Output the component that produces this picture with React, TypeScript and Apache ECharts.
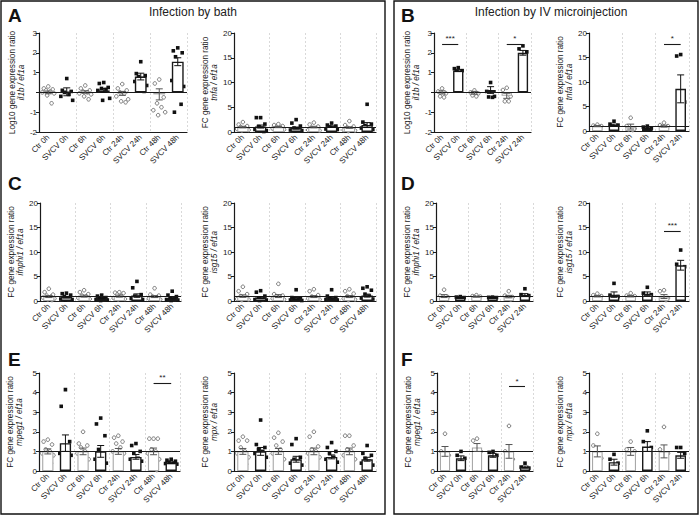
import React, { useEffect, useRef } from 'react';
import * as echarts from 'echarts';

// ---------- categories ----------
const bathGroups = ['Ctr 0h', 'SVCV 0h', 'Ctr 6h', 'SVCV 6h', 'Ctr 24h', 'SVCV 24h', 'Ctr 48h', 'SVCV 48h'];
const ivGroups = ['Ctr 0h', 'SVCV 0h', 'Ctr 6h', 'SVCV 6h', 'Ctr 24h', 'SVCV 24h'];

// ---------- A: il1b (log10), bath ----------
const il1bBathMean = [0.0, 0.03, 0.02, 0.1, -0.05, 0.8, -0.1, 1.55];
const il1bBathSem = [0.07, 0.2, 0.06, 0.1, 0.1, 0.17, 0.28, 0.2];
const il1bBathPts = [
  [0.3, 0.2, 0.15, 0.1, 0.05, 0.0, -0.05, -0.15, -0.55],
  [0.7, 0.1, 0.05, 0.0, -0.1, -0.2, -0.4],
  [0.35, 0.2, 0.1, 0.05, 0.0, -0.05, -0.1, -0.2, -0.35],
  [0.5, 0.45, 0.25, 0.2, 0.15, 0.1, -0.3, -0.4],
  [0.42, 0.2, 0.1, 0.0, -0.05, -0.2, -0.35, -0.45, -0.5],
  [1.55, 0.95, 0.85, 0.8, 0.7, 0.55, 0.35, 0.2, 0.05],
  [0.65, 0.45, -0.25, -0.55, -0.75, -0.9, -1.0, -1.15],
  [2.25, 2.1, 2.0, 1.8, 1.05, 0.6, 0.3, 0.3, -0.6, -1.0],
];

// ---------- A: tnfa, bath ----------
const tnfaBathMean = [1.0, 1.1, 1.0, 0.8, 1.0, 1.1, 0.9, 1.4];
const tnfaBathSem = [0.15, 0.3, 0.1, 0.2, 0.15, 0.15, 0.15, 0.5];
const tnfaBathPts = [
  [2.0, 1.5, 1.2, 1.0, 0.8, 0.6, 0.4, 0.3],
  [2.9, 2.9, 1.6, 1.1, 0.8, 0.5, 0.3, 0.2, 0.1],
  [1.6, 1.4, 1.2, 1.0, 0.9, 0.7, 0.5],
  [2.5, 1.8, 1.2, 0.8, 0.5, 0.4, 0.3, 0.2],
  [1.9, 1.5, 1.1, 0.8, 0.6, 0.4, 0.3],
  [1.8, 1.4, 1.2, 1.0, 0.8, 0.6, 0.5],
  [2.2, 1.4, 1.1, 0.9, 0.6, 0.4, 0.3, 0.2],
  [5.6, 2.0, 1.6, 1.3, 1.0, 0.8, 0.5, 0.3, 0.2],
];

// ---------- B: il1b (log10), IV ----------
const il1bIvMean = [0.0, 1.1, -0.02, 0.12, -0.17, 2.0];
const il1bIvSem = [0.08, 0.05, 0.07, 0.17, 0.13, 0.12];
const il1bIvPts = [
  [0.2, 0.05, -0.05, -0.2, -0.25],
  [1.25, 1.2, 1.1, 1.05, 1.0],
  [0.1, 0.0, -0.05, -0.15, -0.2],
  [0.5, 0.05, -0.2, -0.23, -0.25],
  [0.23, 0.12, -0.2, -0.45, -0.45],
  [2.35, 2.2, 2.05, 1.9, 1.45],
];
const il1bIvSig = [
  { from: 'Ctr 0h', to: 'SVCV 0h', y: 2.45, text: '***' },
  { from: 'Ctr 24h', to: 'SVCV 24h', y: 2.45, text: '*' },
];

// ---------- B: tnfa, IV ----------
const tnfaIvMean = [1.0, 1.2, 0.9, 0.6, 1.0, 8.6];
const tnfaIvSem = [0.1, 0.2, 0.5, 0.2, 0.2, 2.85];
const tnfaIvPts = [
  [1.3, 1.1, 1.0, 0.9, 0.8],
  [2.0, 1.4, 1.2, 1.0, 0.8],
  [2.7, 1.0, 0.5, 0.3, 0.2],
  [1.0, 0.8, 0.6, 0.3, 0.2],
  [1.7, 1.2, 1.0, 0.8, 0.6],
  [15.6, 15.3, 5.9, 4.8, 2.9],
];
const tnfaIvSig = [{ from: 'Ctr 24h', to: 'SVCV 24h', y: 17.8, text: '*' }];

// ---------- C: ifnphi1, bath ----------
const ifnBathMean = [0.9, 0.8, 1.0, 0.6, 1.0, 1.1, 0.9, 0.6];
const ifnBathSem = [0.2, 0.15, 0.2, 0.1, 0.2, 0.35, 0.2, 0.15];
const ifnBathPts = [
  [2.5, 1.8, 1.3, 1.1, 0.9, 0.7, 0.5, 0.3, 0.2],
  [1.6, 1.5, 1.2, 0.9, 0.6, 0.4, 0.3, 0.2],
  [2.2, 1.8, 1.4, 1.1, 0.9, 0.6, 0.4],
  [1.2, 1.0, 0.7, 0.5, 0.4, 0.3, 0.2, 0.1],
  [1.8, 1.7, 1.6, 1.3, 1.0, 0.6, 0.4, 0.3],
  [4.0, 2.7, 1.3, 1.0, 0.8, 0.5, 0.3],
  [2.6, 1.3, 1.1, 0.9, 0.7, 0.5, 0.3],
  [2.0, 1.2, 0.9, 0.6, 0.4, 0.3, 0.2, 0.1],
];

// ---------- C: isg15, bath ----------
const isgBathMean = [1.0, 0.7, 1.0, 0.5, 0.9, 0.6, 0.9, 1.1];
const isgBathSem = [0.25, 0.2, 0.3, 0.2, 0.2, 0.2, 0.2, 0.3];
const isgBathPts = [
  [2.9, 2.0, 1.4, 1.0, 0.6, 0.4, 0.3, 0.2],
  [2.1, 1.8, 1.0, 0.6, 0.4, 0.3, 0.2, 0.1],
  [3.5, 1.4, 1.1, 0.9, 0.7, 0.5, 0.3],
  [2.3, 0.7, 0.5, 0.4, 0.3, 0.2, 0.1],
  [2.4, 2.0, 1.2, 0.9, 0.7, 0.5, 0.3],
  [2.3, 1.0, 0.7, 0.5, 0.4, 0.3, 0.2],
  [2.4, 2.0, 1.5, 1.0, 0.8, 0.5, 0.3, 0.2],
  [2.9, 2.6, 2.2, 1.4, 1.0, 0.6, 0.4, 0.2],
];

// ---------- D: ifnphi1, IV ----------
const ifnIvMean = [1.0, 0.7, 0.9, 0.7, 0.9, 1.2];
const ifnIvSem = [0.3, 0.05, 0.1, 0.05, 0.25, 0.3];
const ifnIvPts = [
  [2.3, 1.1, 0.8, 0.6, 0.4],
  [0.9, 0.8, 0.7, 0.6, 0.5],
  [1.2, 1.0, 0.9, 0.8, 0.6],
  [0.8, 0.75, 0.7, 0.6, 0.5],
  [2.0, 1.1, 0.8, 0.5, 0.3],
  [2.5, 1.3, 1.1, 0.9, 0.6],
];

// ---------- D: isg15, IV ----------
const isgIvMean = [1.0, 1.3, 1.0, 1.5, 0.9, 7.3];
const isgIvSem = [0.15, 0.55, 0.15, 0.35, 0.4, 1.0];
const isgIvPts = [
  [1.5, 1.2, 1.0, 0.7, 0.6],
  [3.6, 1.2, 0.9, 0.6, 0.3],
  [1.6, 1.1, 1.0, 0.8, 0.6],
  [2.8, 1.6, 1.3, 1.0, 0.8],
  [2.2, 2.0, 0.6, 0.4, 0.2],
  [10.4, 7.5, 7.0, 6.6, 4.6],
];
const isgIvSig = [{ from: 'Ctr 24h', to: 'SVCV 24h', y: 14.3, text: '***' }];

// ---------- E: mpeg1, bath ----------
const mpegBathMean = [1.0, 1.42, 1.0, 1.0, 1.0, 0.72, 1.0, 0.42];
const mpegBathSem = [0.13, 0.42, 0.17, 0.3, 0.15, 0.12, 0.17, 0.04];
const mpegBathPts = [
  [1.6, 1.5, 1.35, 1.1, 1.0, 0.9, 0.8, 0.6, 0.4],
  [4.15, 3.3, 1.5, 1.3, 1.1, 0.9, 0.8, 0.6, 0.5, 0.3],
  [2.0, 1.4, 1.3, 1.2, 1.0, 0.9, 0.6, 0.15],
  [2.7, 2.4, 1.8, 1.1, 0.9, 0.6, 0.4, 0.3, 0.1],
  [1.8, 1.7, 1.5, 1.4, 1.2, 1.0, 0.9, 0.7, 0.5],
  [1.4, 1.3, 1.0, 0.9, 0.65, 0.6, 0.5, 0.4, 0.4],
  [1.65, 1.65, 1.65, 1.1, 1.0, 0.9, 0.6, 0.4, 0.05],
  [0.6, 0.55, 0.5, 0.45, 0.4, 0.38, 0.35, 0.3, 0.25],
];
const mpegBathSig = [{ from: 'Ctr 48h', to: 'SVCV 48h', y: 4.5, text: '**' }];

// ---------- E: mpx, bath ----------
const mpxBathMean = [1.0, 1.0, 1.0, 0.6, 1.0, 0.72, 1.0, 0.6];
const mpxBathSem = [0.15, 0.2, 0.15, 0.15, 0.17, 0.1, 0.17, 0.1];
const mpxBathPts = [
  [1.75, 1.55, 1.55, 1.2, 1.0, 0.9, 0.7, 0.5, 0.35],
  [2.6, 1.35, 1.2, 1.1, 1.0, 0.9, 0.7, 0.55, 0.5],
  [1.95, 1.7, 1.5, 1.3, 1.1, 0.9, 0.6, 0.3],
  [1.65, 1.35, 0.7, 0.6, 0.5, 0.4, 0.3, 0.15],
  [2.0, 1.75, 1.25, 1.1, 1.0, 0.9, 0.7, 0.5],
  [1.45, 1.2, 1.0, 0.9, 0.7, 0.6, 0.45, 0.3],
  [1.8, 1.8, 1.3, 1.1, 1.0, 0.8, 0.6, 0.3],
  [1.3, 0.9, 0.8, 0.65, 0.5, 0.4, 0.3, 0.2],
];

// ---------- F: mpeg1, IV ----------
const mpegIvMean = [1.0, 0.65, 1.2, 0.8, 1.0, 0.2];
const mpegIvSem = [0.25, 0.12, 0.2, 0.1, 0.35, 0.05];
const mpegIvPts = [
  [1.9, 1.0, 0.8, 0.6, 0.45],
  [1.0, 0.8, 0.65, 0.5, 0.3],
  [1.65, 1.55, 1.0, 0.6, 0.5],
  [1.0, 0.95, 0.8, 0.7, 0.55],
  [2.3, 1.0, 0.6, 0.55, 0.5],
  [0.4, 0.2, 0.15, 0.1, 0.1],
];
const mpegIvSig = [{ from: 'Ctr 24h', to: 'SVCV 24h', y: 4.3, text: '*' }];

// ---------- F: mpx, IV ----------
const mpxIvMean = [1.0, 0.45, 1.0, 1.25, 1.0, 0.8];
const mpxIvSem = [0.28, 0.15, 0.2, 0.25, 0.33, 0.15];
const mpxIvPts = [
  [1.9, 1.3, 0.65, 0.65, 0.65],
  [0.85, 0.6, 0.4, 0.2, 0.05],
  [1.5, 1.1, 1.0, 0.9, 0.5],
  [2.05, 1.5, 1.2, 0.8, 0.75],
  [2.25, 1.1, 0.9, 0.6, 0.5],
  [1.2, 1.2, 0.9, 0.55, 0.55],
];

// ---------- styling ----------
const FONT = "'Liberation Sans', Arial, sans-serif";
const INK = '#1a1a1a';
const CTR_BORDER = '#a8a8a8';
const CTR_ERR = '#555';
const CTR_PT = '#6a6a6a';
const SVCV_BORDER = '#1a1a1a';
const JITTER = [0, -0.24, 0.24, -0.12, 0.12, -0.32, 0.32, -0.06, 0.18, -0.18, 0.06];

type Sig = { from: string; to: string; y: number; text: string };
type Panel = {
  cats: string[]; mean: number[]; sem: number[]; pts: number[][];
  yMin: number; yMax: number; yInt: number; refY: number;
  name1: string; name2: string; sig?: Sig[]; log?: boolean;
  left: number; top: number; width: number; height: number; nameGap: number;
};

const panels: Panel[] = [
  { cats: bathGroups, mean: il1bBathMean, sem: il1bBathSem, pts: il1bBathPts, yMin: -2, yMax: 3, yInt: 1, refY: 0, log: true,
    name1: 'Log10 gene expression ratio', name2: 'il1b / ef1a', left: 39, top: 33, width: 148, height: 99, nameGap: 10 },
  { cats: bathGroups, mean: tnfaBathMean, sem: tnfaBathSem, pts: tnfaBathPts, yMin: 0, yMax: 20, yInt: 5, refY: 1,
    name1: 'FC gene expression ratio', name2: 'tnfa / ef1a', left: 234, top: 33, width: 142, height: 99, nameGap: 15 },
  { cats: ivGroups, mean: il1bIvMean, sem: il1bIvSem, pts: il1bIvPts, yMin: -2, yMax: 3, yInt: 1, refY: 0, log: true, sig: il1bIvSig,
    name1: 'Log10 gene expression ratio', name2: 'il1b / ef1a', left: 434, top: 33, width: 97, height: 99, nameGap: 13 },
  { cats: ivGroups, mean: tnfaIvMean, sem: tnfaIvSem, pts: tnfaIvPts, yMin: 0, yMax: 20, yInt: 5, refY: 1, sig: tnfaIvSig,
    name1: 'FC gene expression ratio', name2: 'tnfa / ef1a', left: 589, top: 33, width: 100, height: 98, nameGap: 15 },

  { cats: bathGroups, mean: ifnBathMean, sem: ifnBathSem, pts: ifnBathPts, yMin: 0, yMax: 20, yInt: 5, refY: 1,
    name1: 'FC gene expression ratio', name2: 'ifnphi1 / ef1a', left: 40, top: 203, width: 141, height: 98, nameGap: 15 },
  { cats: bathGroups, mean: isgBathMean, sem: isgBathSem, pts: isgBathPts, yMin: 0, yMax: 20, yInt: 5, refY: 1,
    name1: 'FC gene expression ratio', name2: 'isg15 / ef1a', left: 234, top: 203, width: 142, height: 98, nameGap: 15 },
  { cats: ivGroups, mean: ifnIvMean, sem: ifnIvSem, pts: ifnIvPts, yMin: 0, yMax: 20, yInt: 5, refY: 1,
    name1: 'FC gene expression ratio', name2: 'ifnphi1 / ef1a', left: 436, top: 203, width: 97, height: 98, nameGap: 15 },
  { cats: ivGroups, mean: isgIvMean, sem: isgIvSem, pts: isgIvPts, yMin: 0, yMax: 20, yInt: 5, refY: 1, sig: isgIvSig,
    name1: 'FC gene expression ratio', name2: 'isg15 / ef1a', left: 589, top: 203, width: 100, height: 98, nameGap: 15 },

  { cats: bathGroups, mean: mpegBathMean, sem: mpegBathSem, pts: mpegBathPts, yMin: 0, yMax: 5, yInt: 1, refY: 1, sig: mpegBathSig,
    name1: 'FC gene expression ratio', name2: 'mpeg1 / ef1a', left: 39, top: 373, width: 141, height: 98, nameGap: 15 },
  { cats: bathGroups, mean: mpxBathMean, sem: mpxBathSem, pts: mpxBathPts, yMin: 0, yMax: 5, yInt: 1, refY: 1,
    name1: 'FC gene expression ratio', name2: 'mpx / ef1a', left: 234, top: 373, width: 142, height: 98, nameGap: 15 },
  { cats: ivGroups, mean: mpegIvMean, sem: mpegIvSem, pts: mpegIvPts, yMin: 0, yMax: 5, yInt: 1, refY: 1, sig: mpegIvSig,
    name1: 'FC gene expression ratio', name2: 'mpeg1 / ef1a', left: 437, top: 373, width: 96, height: 98, nameGap: 15 },
  { cats: ivGroups, mean: mpxIvMean, sem: mpxIvSem, pts: mpxIvPts, yMin: 0, yMax: 5, yInt: 1, refY: 1,
    name1: 'FC gene expression ratio', name2: 'mpx / ef1a', left: 589, top: 373, width: 100, height: 98, nameGap: 15 },
];

function buildOption() {
  const grid: any[] = [];
  const xAxis: any[] = [];
  const yAxis: any[] = [];
  const series: any[] = [];

  panels.forEach((p, i) => {
    grid.push({ left: p.left, top: p.top, width: p.width, height: p.height, containLabel: false, outerBoundsMode: 'none' });
    xAxis.push({
      type: 'category', gridIndex: i, data: p.cats,
      axisLine: { onZero: false, lineStyle: { color: INK, width: 1.2 } },
      axisTick: { alignWithLabel: true, length: 3, lineStyle: { color: INK, width: 1 } },
      axisLabel: { rotate: 45, fontSize: 8, color: INK, margin: 4, interval: 0, fontFamily: FONT },
      splitLine: { show: true, interval: (idx: number) => idx > 0 && idx % 2 === 0, lineStyle: { color: '#cfcfcf', type: [2, 2], width: 0.8 } },
    });
    yAxis.push({
      type: 'value', gridIndex: i, min: p.yMin, max: p.yMax, interval: p.yInt,
      name: `{a|${p.name1}}\n{b|${p.name2}}`, nameLocation: 'middle', nameRotate: 90, nameGap: p.nameGap,
      nameTextStyle: {
        rich: {
          a: { fontSize: 8.2, color: INK, fontFamily: FONT, lineHeight: 9 },
          b: { fontSize: 8.2, color: INK, fontFamily: FONT, fontStyle: 'italic', lineHeight: 9 },
        },
      },
      axisLine: { show: true, lineStyle: { color: INK, width: 1.2 } },
      axisTick: { show: true, length: 3, lineStyle: { color: INK, width: 1 } },
      axisLabel: { fontSize: 8, color: INK, margin: 2, fontFamily: FONT, formatter: (v: number) => (p.log && v === 0 ? '' : String(v)) },
      splitLine: { show: false },
    });

    const markData: any[] = [{ yAxis: p.refY, label: { show: false } }];
    (p.sig || []).forEach((s) => {
      markData.push([
        { coord: [s.from, s.y], label: { show: true, position: 'middle', formatter: s.text, fontSize: 8, color: INK, distance: 1, fontFamily: FONT } },
        { coord: [s.to, s.y] },
      ]);
    });

    series.push({
      type: 'bar', xAxisIndex: i, yAxisIndex: i, barWidth: '64%',
      data: p.mean.map((v, k) => ({ value: v, itemStyle: { borderColor: k % 2 ? SVCV_BORDER : CTR_BORDER, borderWidth: k % 2 ? 1.4 : 1.1 } })),
      itemStyle: { color: '#ffffff' },
      markLine: { silent: true, symbol: 'none', lineStyle: { color: INK, width: 1.1, type: 'solid' }, label: { show: false }, data: markData },
    });

    const ptData: number[][] = [];
    p.pts.forEach((arr, c) => arr.forEach((v, j) => ptData.push([c, v, j])));
    series.push({
      type: 'custom', xAxisIndex: i, yAxisIndex: i, data: ptData, encode: { x: 0, y: 1 },
      renderItem: (params: any, api: any) => {
        const c = api.value(0) as number;
        const v = api.value(1) as number;
        const j = api.value(2) as number;
        const pt = api.coord([c, v]);
        const band = api.size([1, 0])[0];
        const x = pt[0] + JITTER[j % JITTER.length] * band;
        if (c % 2 === 0) {
          return { type: 'circle', shape: { cx: x, cy: pt[1], r: 1.8 }, style: { fill: '#fff', stroke: CTR_PT, lineWidth: 0.9 } };
        }
        return { type: 'rect', shape: { x: x - 1.8, y: pt[1] - 1.8, width: 3.6, height: 3.6 }, style: { fill: '#111' } };
      },
    });

    const errData = p.mean.map((m, k) => [k, m - p.sem[k], m + p.sem[k]]);
    series.push({
      type: 'custom', xAxisIndex: i, yAxisIndex: i, data: errData, encode: { x: 0, y: [1, 2] }, z: 5,
      renderItem: (params: any, api: any) => {
        const c = api.value(0) as number;
        const lo = api.coord([c, api.value(1)]);
        const hi = api.coord([c, api.value(2)]);
        const w = 3.5;
        const style = { stroke: c % 2 ? '#111' : CTR_ERR, lineWidth: 1 };
        return {
          type: 'group',
          children: [
            { type: 'line', shape: { x1: lo[0], y1: lo[1], x2: hi[0], y2: hi[1] }, style },
            { type: 'line', shape: { x1: hi[0] - w, y1: hi[1], x2: hi[0] + w, y2: hi[1] }, style },
            { type: 'line', shape: { x1: lo[0] - w, y1: lo[1], x2: lo[0] + w, y2: lo[1] }, style },
          ],
        };
      },
    });
  });

  const letter = (t: string, x: number, y: number) => ({
    type: 'text', x, y, style: { text: t, fontSize: 19, fontWeight: 'bold', fill: '#111', fontFamily: FONT, verticalAlign: 'middle' },
  });
  const title = (t: string, x: number, y: number) => ({
    type: 'text', x, y, style: { text: t, fontSize: 12, fill: '#222', fontFamily: FONT, align: 'center', verticalAlign: 'middle' },
  });

  const graphic = [
    { type: 'rect', shape: { x: 1, y: 1, width: 384, height: 513 }, style: { fill: 'none', stroke: '#111', lineWidth: 1.4 } },
    { type: 'rect', shape: { x: 394, y: 1, width: 304, height: 513 }, style: { fill: 'none', stroke: '#111', lineWidth: 1.4 } },
    letter('A', 8, 15), letter('B', 401, 15), letter('C', 8, 183), letter('D', 401, 183), letter('E', 8, 359), letter('F', 401, 359),
    title('Infection by bath', 193, 12), title('Infection by IV microinjection', 551, 12),
  ];

  return {
    animation: false,
    backgroundColor: '#ffffff',
    textStyle: { fontFamily: FONT },
    grid, xAxis, yAxis, series, graphic,
  };
}

export default function App() {
  const ref = useRef<HTMLDivElement>(null);
  useEffect(() => {
    document.body.style.margin = '0';
    const chart = echarts.init(ref.current!, null, { renderer: 'svg' });
    chart.setOption(buildOption() as any);
    return () => chart.dispose();
  }, []);
  return <div ref={ref} style={{ width: 700, height: 517 }} />;
}
